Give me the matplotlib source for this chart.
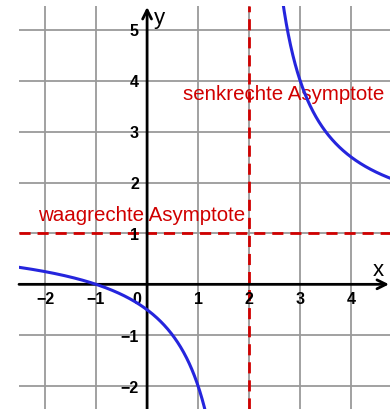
import numpy as np
import matplotlib.pyplot as plt

# asymptotes and one point on the curve
senkrecht_x = 2.0
waagrecht_y = 1.0
punkt = (3.0, 4.0)

x_ticks = [-2, -1, 0, 1, 2, 3, 4]
y_ticks = [-2, -1, 1, 2, 3, 4, 5]

x_min, x_max = -2.51, 4.76
y_min, y_max = -2.45, 5.47

rot = '#d00000'
blau = '#2525dd'
grau = '#9a9a9a'

plt.rcParams['font.family'] = ['Liberation Sans', 'DejaVu Sans']

fig = plt.figure(figsize=(3.9, 4.1), dpi=100)
ax = fig.add_axes([19 / 390, 0, 1 - 19 / 390, 403 / 410])
ax.set_xlim(x_min, x_max)
ax.set_ylim(y_min, y_max)
ax.axis('off')

# grid
for gx in x_ticks:
    if gx != 0:
        ax.axvline(gx, color=grau, lw=1.3, zorder=1)
for gy in y_ticks:
    ax.axhline(gy, color=grau, lw=1.3, zorder=1)

# axes with arrows
ax.annotate('', xy=(x_max - 0.02, 0), xytext=(x_min, 0),
            arrowprops=dict(arrowstyle='->', lw=2, color='black',
                            mutation_scale=16, shrinkA=0, shrinkB=0), zorder=3)
ax.annotate('', xy=(0, y_max - 0.02), xytext=(0, y_min),
            arrowprops=dict(arrowstyle='->', lw=2, color='black',
                            mutation_scale=16, shrinkA=0, shrinkB=0), zorder=3)
ax.text(4.43, 0.08, 'x', fontsize=16, ha='left', va='bottom', zorder=4)
ax.text(0.13, 5.24, 'y', fontsize=16, ha='left', va='center', zorder=4)

# tick labels
for tx in x_ticks:
    lab = '0' if tx == 0 else str(tx).replace('-', '\u2212')
    xp = -0.21 if tx == 0 else tx
    ax.text(xp, -0.13, lab, fontsize=11.5, fontweight='bold',
            ha='center', va='top', zorder=4)
for ty in y_ticks:
    lab = str(ty).replace('-', '\u2212')
    ax.text(-0.16, ty - 0.02, lab, fontsize=11.5, fontweight='bold',
            ha='right', va='center', zorder=4)

# asymptotes
ax.axvline(senkrecht_x, color=rot, lw=2, ls=(0, (4, 2.5)), zorder=2)
ax.axhline(waagrecht_y, color=rot, lw=2, ls=(0, (4, 2.5)), zorder=2)
ax.text(0.7, 3.76, 'senkrechte Asymptote', color=rot, fontsize=14.8,
        ha='left', va='center', zorder=4)
ax.text(-2.13, 1.37, 'waagrechte Asymptote', color=rot, fontsize=14.8,
        ha='left', va='center', zorder=4)

# hyperbola through the point, with the given asymptotes
k = (punkt[1] - waagrecht_y) * (punkt[0] - senkrecht_x)
links = np.linspace(x_min, senkrecht_x - 0.5, 400)
rechts = np.linspace(senkrecht_x + 0.5, x_max, 400)
for xs in (links, rechts):
    ax.plot(xs, waagrecht_y + k / (xs - senkrecht_x), color=blau, lw=2.2, zorder=5)

fig.savefig('out.png', dpi=100)
